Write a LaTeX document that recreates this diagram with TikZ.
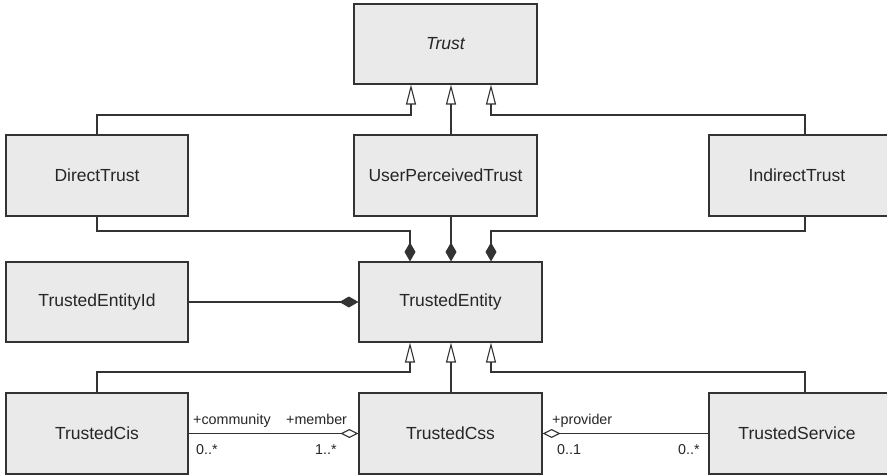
\documentclass[tikz,border=0pt]{standalone}
\usepackage{fontspec}
\setmainfont{Liberation Sans}
\usetikzlibrary{arrows.meta}
\definecolor{boxfill}{HTML}{EAEAEA}
\definecolor{ink}{HTML}{333333}
\tikzset{
  cls/.style={draw=ink, line width=1.1pt, fill=boxfill, minimum width=182pt, minimum height=81pt, inner sep=0pt, font=\fontsize{17.5}{19}\selectfont, text=black!85},
  clstext/.style={font=\fontsize{17.5}{19}\selectfont, text=black!85, inner sep=0pt},
  conn/.style={draw=ink, line width=1.1pt},
  gen/.style={conn, -{Triangle[open, length=20pt, width=10pt, line width=1.1pt]}},
  comp/.style={conn, -{Diamond[length=19pt, width=11pt]}},
  aggr/.style={conn, -{Diamond[open, length=18pt, width=9pt, line width=1.1pt]}},
  lbl/.style={font=\fontsize{14.3}{16}\selectfont, text=black!85, inner sep=0pt}
}
\begin{document}
\begin{tikzpicture}[x=1pt, y=-1pt]
\clip (0,0) rectangle (887,476);
\fill[white] (0,0) rectangle (887,476);
% classes
\node[cls, minimum width=183pt, minimum height=80pt] (trust) at (445.5,44) {\itshape Trust};
\node[cls] (direct) at (97,175.5) {DirectTrust};
\node[cls, minimum width=183pt] (upt) at (445.5,175.5) {UserPerceivedTrust};
\node[cls, minimum width=186pt] (indirect) at (802,175.5) {};
\node[clstext] (indirectlbl) at (797,175.5) {IndirectTrust};
\node[cls, minimum height=80pt] (teid) at (97,302) {TrustedEntityId};
\node[cls, minimum width=183pt, minimum height=80pt] (te) at (450.5,302) {TrustedEntity};
\node[cls] (cis) at (97,433.5) {TrustedCis};
\node[cls, minimum width=183pt] (css) at (450.5,433.5) {TrustedCss};
\node[cls, minimum width=186pt] (svc) at (802,433.5) {};
\node[clstext] (svclbl) at (797,433.5) {TrustedService};
% generalisations to Trust
\draw[gen] (direct.north -| 97,0) |- (411,115) -- (trust.south -| 411,0);
\draw[gen] (upt.north -| 451,0) -- (trust.south -| 451,0);
\draw[gen] (indirect.north -| 805,0) |- (491,115) -- (trust.south -| 491,0);
% compositions to TrustedEntity
\draw[comp] (direct.south -| 97,0) |- (410,231) -- (te.north -| 410,0);
\draw[comp] (upt.south -| 451,0) -- (te.north -| 451,0);
\draw[comp] (indirect.south -| 805,0) |- (491,231) -- (te.north -| 491,0);
\draw[comp] (teid.east) -- (te.west);
% generalisations to TrustedEntity
\draw[gen] (cis.north -| 97,0) |- (410,372) -- (te.south -| 410,0);
\draw[gen] (css.north -| 451,0) -- (te.south -| 451,0);
\draw[gen] (svc.north -| 805,0) |- (491,372) -- (te.south -| 491,0);
% associations
\draw[aggr] (cis.east) -- (css.west);
\draw[aggr] (svc.west) -- (css.east);
\node[lbl, anchor=base west] (l1) at (193,424) {+community};
\node[lbl, anchor=base west] (l2) at (286,424) {+member};
\node[lbl, anchor=base west] (l3) at (196,454) {0..*};
\node[lbl, anchor=base west] (l4) at (315,454) {1..*};
\node[lbl, anchor=base west] (l5) at (552,424) {+provider};
\node[lbl, anchor=base west] (l6) at (557,454) {0..1};
\node[lbl, anchor=base west] (l7) at (678,454) {0..*};
\end{tikzpicture}
\end{document}
